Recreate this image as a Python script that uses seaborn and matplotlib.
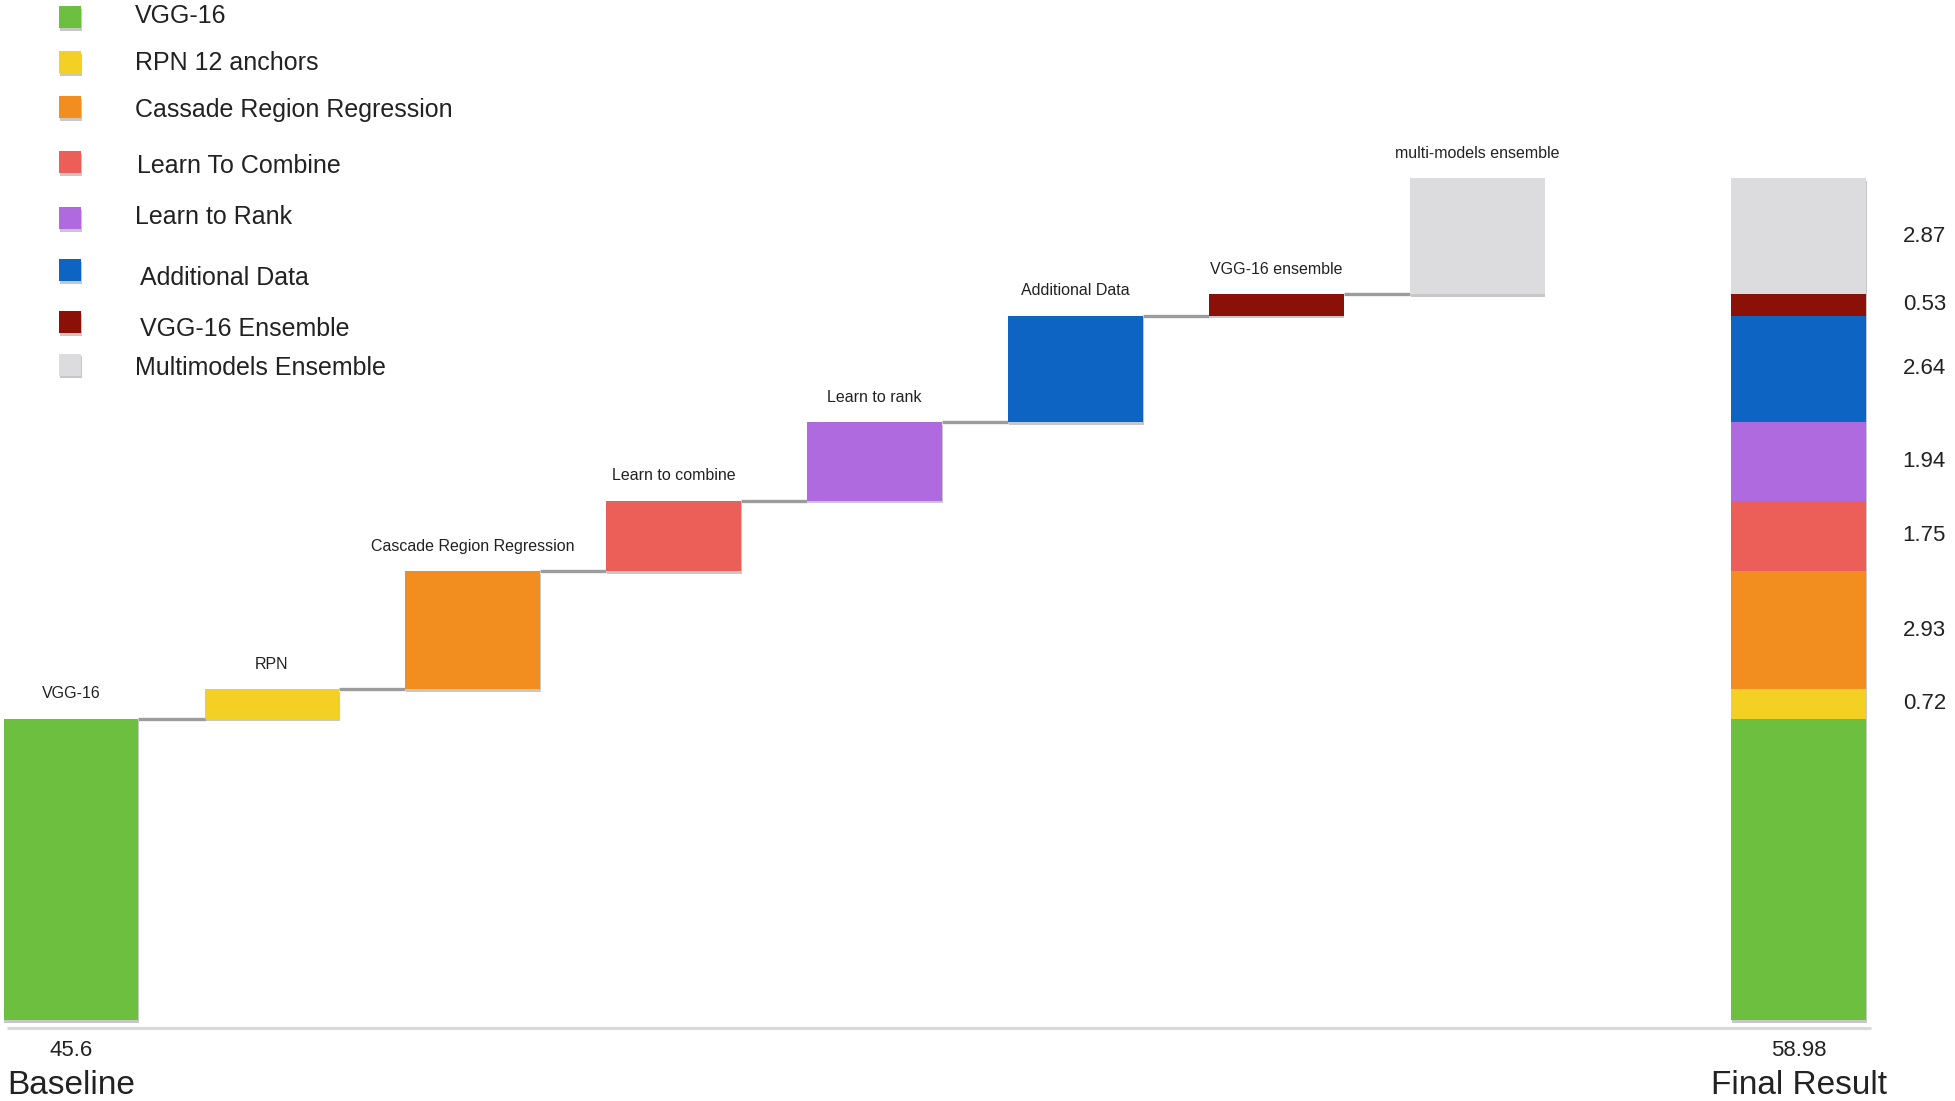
import numpy as np
import pandas as pd
import matplotlib
matplotlib.use("Agg")
import matplotlib.pyplot as plt
import matplotlib.patheffects as pe
from matplotlib.patches import Rectangle
import seaborn as sns

# ---------------- data ----------------
baseline_label = "VGG-16"
baseline_value = 45.6
step_labels = ["RPN", "Cascade Region Regression", "Learn to combine", "Learn to rank",
               "Additional Data", "VGG-16 ensemble", "multi-models ensemble"]
step_gains = [0.72, 2.93, 1.75, 1.94, 2.64, 0.53, 2.87]
final_value = 58.98
legend_labels = ["VGG-16", "RPN 12 anchors", "Cassade Region Regression", "Learn To Combine",
                 "Learn to Rank", "Additional Data", "VGG-16 Ensemble", "Multimodels Ensemble"]
bar_colors = ["#6dbf40", "#f4d024", "#f18e1f", "#ec5e58", "#b06ae0", "#0e64c2", "#8b1008", "#dcdcde"]
bottom_labels = ["Baseline", "Final Result"]

# ---------------- layout ----------------
W, H, DPI = 1956, 1101, 100
BAR_W = 0.67
FLOOR = 38.12          # visible bottom of the (broken) value axis
FINAL_POS = 8.6
TEXT = "#222222"

sns.set_theme(style="white")
plt.rcParams["font.family"] = ["Liberation Sans", "DejaVu Sans"]

fig = plt.figure(figsize=(W / DPI, H / DPI), dpi=DPI)
ax = fig.add_axes([0, 0, 1, 1])

shadow = [pe.SimplePatchShadow(offset=(0.6, -1.8), shadow_rgbFace="black", alpha=0.22), pe.Normal()]

# waterfall table
starts = np.concatenate([[FLOOR], baseline_value + np.concatenate([[0], np.cumsum(step_gains)[:-1]])])
heights = np.concatenate([[baseline_value - FLOOR], step_gains])
positions = np.arange(len(heights), dtype=float)
tops = starts + heights
df = pd.DataFrame({"pos": positions, "start": starts, "height": heights,
                   "color": bar_colors, "label": [baseline_label] + step_labels})

# connectors
for i in range(len(df) - 1):
    ax.hlines(tops[i], positions[i] + BAR_W / 2, positions[i + 1] - BAR_W / 2,
              color="#9c9c9c", lw=2.4, zorder=1)

# floating bars
for _, r in df.iterrows():
    sns.barplot(x=[r.pos], y=[r.height], bottom=r.start, native_scale=True, orient="x",
                width=BAR_W, color=r.color, saturation=1, errorbar=None, ax=ax,
                linewidth=0, zorder=2)
    ax.annotate(r.label, (r.pos, r.start + r.height), xytext=(0, 18), textcoords="offset points",
                ha="center", va="center", fontsize=11.5, color=TEXT,
                family=["Liberation Sans Narrow", "Liberation Sans"])

# final stacked bar
for i, r in df.iterrows():
    sns.barplot(x=[FINAL_POS], y=[r.height], bottom=r.start, native_scale=True, orient="x",
                width=BAR_W, color=r.color, saturation=1, errorbar=None, ax=ax,
                linewidth=0, zorder=2 + 0.01 * (len(df) - i))
    if i > 0:
        ax.annotate(f"{r.height:.2f}", (FINAL_POS + BAR_W / 2, r.start + r.height / 2),
                    xytext=(42, 0), textcoords="offset points", ha="center", va="center",
                    fontsize=16, color=TEXT)

for p in ax.patches:
    p.set_path_effects(shadow)

# base line
axis_y = FLOOR - 0.19
ax.hlines(axis_y, -0.32, 8.96, color="#d9d9dd", lw=2.2, zorder=1)

# bottom labels
for pos, val, lab in [(0, baseline_value, bottom_labels[0]), (FINAL_POS, final_value, bottom_labels[1])]:
    ax.annotate(f"{val:g}", (pos, axis_y), xytext=(0, -16), textcoords="offset points",
                ha="center", va="center", fontsize=16, color=TEXT)
    ax.annotate(lab, (pos, axis_y), xytext=(0, -41), textcoords="offset points",
                ha="center", va="center", fontsize=24, color=TEXT)

ax.set_xlim(-0.353, 9.383)
ax.set_ylim(36.125, 63.40)
ax.axis("off")

# legend (manual, figure pixel coords)
sq_y = [17, 62, 107, 162, 218, 270, 322, 365]
tx_y = [16, 63, 110, 166, 217, 278, 329, 368]
tx_x = [135, 135, 135, 137, 135, 140, 140, 135]
SQ = 22
for lab, c, sy, ty, tx in zip(legend_labels, bar_colors, sq_y, tx_y, tx_x):
    rect = Rectangle(((70 - SQ / 2) / W, 1 - (sy + SQ / 2) / H), SQ / W, SQ / H,
                     transform=fig.transFigure, facecolor=c, edgecolor="none")
    rect.set_path_effects(shadow)
    fig.patches.append(rect)
    fig.text(tx / W, 1 - ty / H, lab, ha="left", va="center", fontsize=18, color=TEXT)

fig.savefig("out.png", dpi=DPI)
